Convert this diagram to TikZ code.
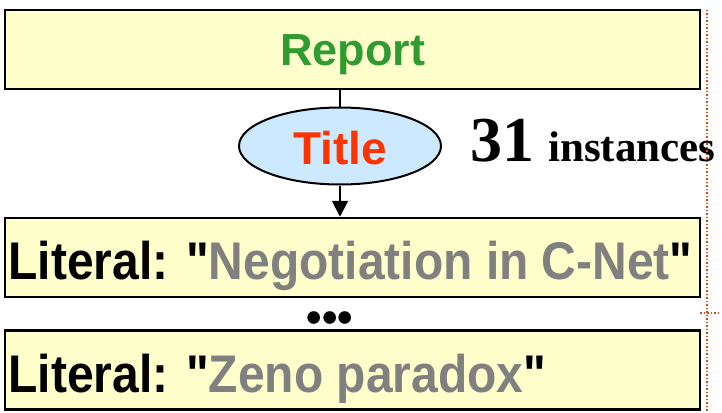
\documentclass[tikz,border=0pt]{standalone}
\usepackage{fontspec}
\setmainfont{Liberation Sans}
\newfontfamily\arialb{Liberation Sans}
\newfontfamily\serifbold{Liberation Serif}
\usetikzlibrary{arrows.meta,shapes.geometric}
\definecolor{boxfill}{HTML}{FFFFCC}
\definecolor{ellfill}{HTML}{CCE9FF}
\definecolor{repgreen}{RGB}{48,155,48}
\definecolor{titlered}{HTML}{FF3300}
\definecolor{litgray}{HTML}{808080}
\definecolor{dotred}{RGB}{225,70,25}
\tikzset{
  classbox/.style={draw=black, line width=2.5pt, fill=boxfill, rectangle,
    minimum width=695pt, minimum height=79pt, inner sep=0pt},
  litbox/.style={classbox, text width=688pt, inner xsep=3.5pt, align=flush left,
    text height=44pt, text depth=0pt},
  propell/.style={draw=black, line width=2pt, fill=ellfill, ellipse,
    minimum width=202pt, minimum height=77pt, inner sep=0pt,
    text height=36pt, text depth=0pt},
  link/.style={draw=black, line width=2pt},
  sepline/.style={draw=dotred, line width=1.5pt, dotted},
}
\newcommand{\littext}[1]{\scalebox{0.905}[1]{\arialb\fontsize{53}{60}\selectfont\bfseries #1}}
\begin{document}
\begin{tikzpicture}[x=1pt,y=-1pt]
\useasboundingbox (0,0) rectangle (722,412);
\node[classbox, text height=31pt, text depth=0pt] (report) at (352.5,49.5)
  {\fontsize{45}{50}\selectfont\bfseries\color{repgreen}Report};
\node[propell] (title) at (340,146)
  {\fontsize{46}{50}\selectfont\bfseries\color{titlered}Title};
\node[anchor=base west, inner sep=0pt] (count) at (470,161)
  {\serifbold\bfseries\fontsize{64}{68}\selectfont 31\hspace{14pt}\fontsize{43}{46}\selectfont instances};
\node[litbox] (lit1) at (352.5,257.5)
  {\littext{Literal: "\textcolor{litgray}{Negotiation in C-Net}"}};
\node[inner sep=0pt] (dots) at (330,322)
  {\fontsize{44}{48}\selectfont\bfseries •••};
\node[litbox] (lit2) at (352.5,370)
  {\littext{Literal: "\textcolor{litgray}{Zeno paradox}"}};
\draw[link] (report.south -| title.north) -- (title.north);
\draw[link, -{Triangle[length=16pt,width=16pt]}] (title.south) -- (title.south |- lit1.north);
\coordinate (vtop) at (707,10);
\coordinate (vbot) at (707,412);
\coordinate (hl) at (700,313);
\coordinate (hr) at (721,313);
\draw[sepline] (vtop) -- (vbot);
\draw[sepline] (hl) -- (hr);
\end{tikzpicture}
\end{document}
